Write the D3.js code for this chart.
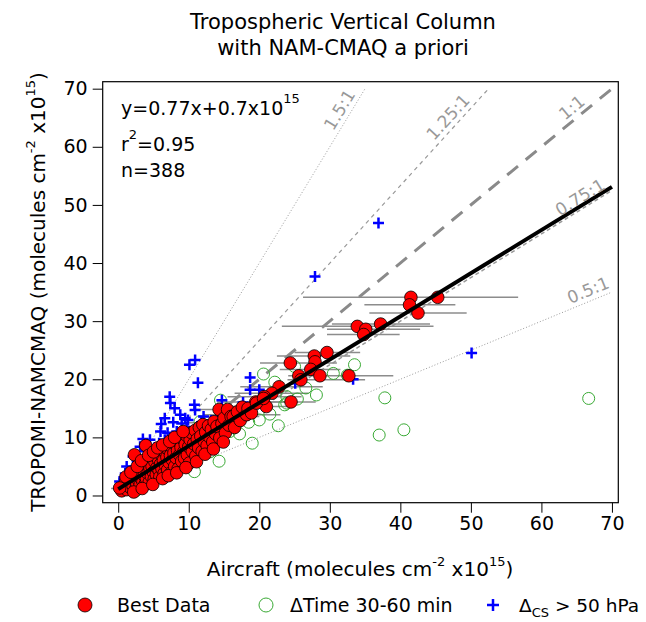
<!DOCTYPE html>
<html><head><meta charset="utf-8">
<script src="https://cdn.jsdelivr.net/npm/d3@7"></script>
<style>
body{margin:0;background:#fff;}
text{font-family:"DejaVu Sans",sans-serif;}
</style></head>
<body><svg id="c" width="646" height="622"></svg>
<script>
// ---------- data ----------
const titleLines = ["Tropospheric Vertical Column", "with NAM-CMAQ a priori"];
const xTicks = [0,10,20,30,40,50,60,70];
const yTicks = [0,10,20,30,40,50,60,70];
const fitSlope = 0.743, fitIntercept = 1.1;
const statsText = ["y=0.77x+0.7x10", "15", "r", "2", "=0.95", "n=388"];
const refSlopes = [2.0, 1.333, 1.0, 0.75, 0.5];
const refLabels = ["1.5:1", "1.25:1", "1:1", "0.75:1", "0.5:1"];
const refLabelAt = [32.7, 47.9, 65.3, 66.3, 67.2];

const bestData = [
[45.3,34.1],[41.5,34.1],[41.3,32.8],[42.5,31.4],[37.2,29.5],[33.9,29.1],[35.1,28.6],[34.8,27.7],
[29.6,24.6],[27.8,24.0],[27.9,23.0],[24.4,22.8],[27.3,21.7],[25.6,20.6],[25.9,19.9],[28.6,20.6],
[32.7,20.6],[22.8,18.7],[21.8,17.6],[20.7,17.0],[19.5,16.1],[21.0,15.3],[24.5,16.1],[18.0,13.9],
[0.3,1.2],[0.5,0.8],[0.8,1.5],[1.0,2.2],[1.2,1.0],[1.4,1.8],[1.5,2.8],[1.7,1.4],[1.9,2.4],[2.0,3.3],
[2.1,1.7],[2.3,2.9],[2.4,4.0],[2.5,1.2],[2.6,2.2],[2.8,3.5],[2.9,2.6],[3.0,4.6],[3.1,1.8],[3.2,3.0],
[3.4,4.1],[3.5,2.4],[3.6,5.2],[3.7,3.4],[3.8,1.9],[3.9,4.4],[4.0,2.9],[4.1,5.5],[4.2,3.8],[4.4,2.3],
[4.5,4.7],[4.6,6.1],[4.7,3.3],[4.8,5.0],[5.0,4.0],[5.1,2.8],[5.2,5.8],[5.3,6.8],[5.4,3.6],[5.5,4.8],
[5.7,6.2],[5.8,4.3],[5.9,3.2],[6.0,5.4],[6.1,7.0],[6.2,4.6],[6.4,6.0],[6.5,3.8],[6.6,7.6],[6.7,5.2],
[6.9,6.6],[7.0,4.4],[7.1,7.9],[7.2,5.7],[7.4,6.9],[7.5,3.9],[7.6,8.4],[7.7,6.1],[7.9,7.3],[8.0,5.0],
[8.1,8.8],[8.2,6.5],[8.4,7.8],[8.5,4.6],[8.6,9.2],[8.7,7.0],[8.9,8.3],[9.0,5.9],[9.1,9.8],[9.3,7.5],
[9.4,6.4],[9.5,8.8],[9.7,10.3],[9.8,7.0],[10.0,8.4],[10.1,5.6],[10.2,9.6],[10.4,10.8],[10.5,7.6],[10.7,8.9],
[10.9,11.2],[11.0,6.8],[11.2,9.7],[11.4,8.2],[11.5,11.7],[11.7,10.2],[11.9,7.6],[12.0,12.2],[12.2,9.3],[12.4,10.9],
[12.6,8.6],[12.8,12.0],[13.0,10.0],[13.2,11.4],[13.4,9.2],[13.6,12.7],[13.8,10.6],[14.0,11.9],[14.3,14.8],[14.4,9.9],
[14.7,12.4],[15.0,13.3],[15.2,10.8],[15.5,14.8],[15.7,12.1],[16.0,13.6],[16.3,13.6],[16.5,11.7],[16.9,14.4],[17.3,12.9],
[17.6,15.2],[18.2,13.9],[18.4,15.0],[18.9,14.2],[19.6,15.9],[20.6,16.7],[3.9,8.6],[2.3,7.0],[0.2,1.3],
[1.1,3.2],[1.8,4.0],[2.7,5.0],[3.3,6.0],[4.3,6.9],[5.0,7.5],[5.6,8.2],[6.3,8.7],[7.3,9.3],[8.0,10.0],
[9.2,11.0],[2.2,0.6],[3.4,1.2],[4.9,1.9],[6.3,2.9],[7.1,3.4],[8.3,3.9],[9.6,4.8],[11.1,5.8],[12.3,7.1],
[13.5,8.0],[14.9,9.2]
];

const timeData = [
[66.7,16.7],[37.0,10.4],[40.5,11.3],[37.8,16.8],[33.5,22.5],[32.5,20.7],[28.1,17.3],[26.6,18.5],
[25.4,16.6],[23.9,17.0],[23.6,15.6],[25.0,22.2],[20.6,20.9],[14.5,16.4],[16.8,12.4],[19.0,9.0],
[14.3,5.9],[10.8,4.1],[22.7,12.0],[23.9,15.9],[11.6,12.7],[15.8,11.0],[18.5,12.6],[21.5,14.0],
[17.2,10.6],[13.0,7.5],[9.0,5.5],[6.5,3.5],[4.0,2.0],[2.5,0.8],[12.2,9.0],[20.0,13.0],[30.5,21.0],[22.2,19.5]
];

const csData = [
[36.9,46.9],[27.9,37.7],[50.1,24.5],[33.3,20.0],[25.1,19.3],[18.7,20.3],[18.7,18.2],[20.0,18.2],[17.7,16.0],
[10.9,23.3],[10.1,22.5],[11.3,19.4],[7.3,17.0],[7.4,15.9],[8.0,15.0],[10.8,15.6],[10.9,14.7],[14.7,16.4],
[6.6,13.3],[6.1,12.3],[8.8,13.9],[9.5,13.3],[9.0,12.4],[9.7,11.8],[12.1,13.6],[14.0,13.3],[3.5,9.7],
[4.5,9.6],[5.8,9.0],[6.6,9.6],[8.3,11.0],[3.1,8.4],[2.1,6.7],[1.2,5.0],[1.0,3.8],[0.2,2.4],[0.5,0.9],
[5.2,8.2],[7.0,10.8],[9.9,13.0],[4.0,7.6],[2.7,5.8],[1.6,4.2],[0.8,2.9],[11.8,12.6],[13.2,12.9],
[6.0,11.0],[7.8,12.6],[15.5,14.2]
];

// error bars: [y, xLow, xHigh]
const errorBars = [
[34.1,26.2,56.7],[32.8,34.9,47.8],[31.4,35.6,49.4],[29.5,30.3,44.2],[29.1,23.2,44.7],[28.6,29.6,42.8],
[27.7,29.6,39.9],[24.6,25.0,34.3],[24.0,22.5,32.9],[22.8,20.1,31.0],[21.7,22.9,31.5],[20.6,24.1,39.0],
[19.9,24.0,35.0],[18.7,17.3,29.0],[17.6,16.5,27.0],[17.0,15.5,26.0],[16.1,14.0,25.5],[15.3,16.0,24.5],
[16.1,20.0,28.0],[13.9,12.0,23.0],[13.6,11.5,20.0],[14.8,11.0,19.5],[12.5,10.0,18.0],[11.5,9.0,16.5],
[10.5,8.0,14.5],[9.0,7.0,13.0],[7.5,5.0,11.0],[6.0,3.0,8.5],[4.0,1.5,6.5],[2.0,-0.5,3.0],[1.2,-1.0,2.0]
];

const legendItems = ["Best Data", "\u0394Time 30-60 min"];

// ---------- layout ----------
const svg = d3.select("#c");
const box = {l:102.7, r:618.3, t:81.7, b:502.7};
const x = d3.scaleLinear().domain([-2.2, 70.9]).range([box.l, box.r]);
const y = d3.scaleLinear().domain([-1.24, 71.2]).range([box.b, box.t]);

// title
svg.selectAll(".title").data(titleLines).enter().append("text")
  .attr("x", 343).attr("y", (d,i)=>29+i*26)
  .attr("text-anchor","middle").attr("font-size",21).text(d=>d);

// clip
svg.append("clipPath").attr("id","clip").append("rect")
  .attr("x",box.l).attr("y",box.t).attr("width",box.r-box.l).attr("height",box.b-box.t);
const plot = svg.append("g").attr("clip-path","url(#clip)");

// reference lines
const refStyle = [
  {dash:"1,2", w:1, c:"#999"},
  {dash:"4,4", w:1.2, c:"#999"},
  {dash:"14,10", w:3, c:"#8a8a8a"},
  {dash:"4,3", w:1.5, c:"#999"},
  {dash:"1,2", w:1, c:"#999"}
];
refSlopes.forEach((s,i)=>{
  const xe = Math.min(70, 70/s);
  plot.append("line")
    .attr("x1",x(0)).attr("y1",y(0)).attr("x2",x(xe)).attr("y2",y(xe*s))
    .attr("stroke",refStyle[i].c).attr("stroke-width",refStyle[i].w)
    .attr("stroke-dasharray",refStyle[i].dash);
});
// ref labels
refSlopes.forEach((s,i)=>{
  const xv = refLabelAt[i];
  const px = x(xv), py = y(xv*s);
  const ang = Math.atan2(y(s*10)-y(0), x(10)-x(0))*180/Math.PI;
  svg.append("text")
    .attr("transform",`translate(${px},${py}) rotate(${ang}) translate(0,-5)`)
    .attr("text-anchor","middle").attr("font-size",17).attr("fill","#999")
    .text(refLabels[i]);
});

// error bars
plot.selectAll(".eb").data(errorBars).enter().append("line")
  .attr("x1",d=>x(d[1])).attr("x2",d=>x(d[2]))
  .attr("y1",d=>y(d[0])).attr("y2",d=>y(d[0]))
  .attr("stroke","#8c8c8c").attr("stroke-width",1.5);

// green circles
plot.selectAll(".tm").data(timeData).enter().append("circle")
  .attr("cx",d=>x(d[0])).attr("cy",d=>y(d[1])).attr("r",6)
  .attr("fill","none").attr("stroke","#3aaa35").attr("stroke-width",1);

// blue plus
const plusPath = "M-5.5,0H5.5M0,-5.5V5.5";
plot.selectAll(".cs").data(csData).enter().append("path")
  .attr("transform",d=>`translate(${x(d[0])},${y(d[1])})`)
  .attr("d",plusPath).attr("stroke","#0000ff").attr("stroke-width",2.5).attr("fill","none");

// red circles
plot.selectAll(".bd").data(bestData).enter().append("circle")
  .attr("cx",d=>x(d[0])).attr("cy",d=>y(d[1])).attr("r",6.3)
  .attr("fill","#ff0000").attr("stroke","#000").attr("stroke-width",0.8);

// fit line
plot.append("line")
  .attr("x1",x(0)).attr("y1",y(fitIntercept))
  .attr("x2",x(70)).attr("y2",y(fitIntercept+70*fitSlope))
  .attr("stroke","#000").attr("stroke-width",4);

// box
svg.append("rect").attr("x",box.l).attr("y",box.t)
  .attr("width",box.r-box.l).attr("height",box.b-box.t)
  .attr("fill","none").attr("stroke","#000").attr("stroke-width",1.2);

// axes
const xAxis = d3.axisBottom(x).tickValues(xTicks).tickSize(10).tickPadding(4).tickSizeOuter(0);
const gx = svg.append("g").attr("transform",`translate(0,${box.b})`).call(xAxis);
gx.select(".domain").remove();
gx.selectAll("text").attr("font-size",19).attr("font-family","DejaVu Sans");
const yAxis = d3.axisLeft(y).tickValues(yTicks).tickSize(10).tickPadding(5).tickSizeOuter(0);
const gy = svg.append("g").attr("transform",`translate(${box.l},0)`).call(yAxis);
gy.select(".domain").remove();
gy.selectAll("text").attr("font-size",19).attr("font-family","DejaVu Sans");

// stats text
const st = svg.append("g").attr("font-size",19);
const t1 = st.append("text").attr("x",121).attr("y",115);
t1.append("tspan").text(statsText[0]);
t1.append("tspan").attr("dy",-12).attr("font-size",13).text(statsText[1]);
const t2 = st.append("text").attr("x",121).attr("y",151);
t2.append("tspan").text(statsText[2]);
t2.append("tspan").attr("dy",-12).attr("font-size",13).text(statsText[3]);
t2.append("tspan").attr("dy",12).text(statsText[4]);
st.append("text").attr("x",121).attr("y",177).text(statsText[5]);

// axis titles
const xl = svg.append("text").attr("x",360).attr("y",576).attr("text-anchor","middle").attr("font-size",20);
xl.append("tspan").text("Aircraft (molecules cm");
xl.append("tspan").attr("dy",-10).attr("font-size",13).text("-2");
xl.append("tspan").attr("dy",10).text(" x10");
xl.append("tspan").attr("dy",-10).attr("font-size",13).text("15");
xl.append("tspan").attr("dy",10).text(")");

const yl = svg.append("text").attr("transform","translate(45,292) rotate(-90)")
  .attr("text-anchor","middle").attr("font-size",20);
yl.append("tspan").text("TROPOMI-NAMCMAQ (molecules cm");
yl.append("tspan").attr("dy",-10).attr("font-size",13).text("-2");
yl.append("tspan").attr("dy",10).text(" x10");
yl.append("tspan").attr("dy",-10).attr("font-size",13).text("15");
yl.append("tspan").attr("dy",10).text(")");

// legend
const ly = 605;
svg.append("circle").attr("cx",85).attr("cy",ly).attr("r",7)
  .attr("fill","#ff0000").attr("stroke","#000").attr("stroke-width",0.8);
svg.append("text").attr("x",117).attr("y",ly+7).attr("font-size",19).text(legendItems[0]);
svg.append("circle").attr("cx",266).attr("cy",ly).attr("r",7)
  .attr("fill","none").attr("stroke","#3aaa35").attr("stroke-width",1);
svg.append("text").attr("x",290).attr("y",ly+7).attr("font-size",19).text(legendItems[1]);
svg.append("path").attr("transform",`translate(493,${ly})`).attr("d","M-6,0H6M0,-6V6")
  .attr("stroke","#0000ff").attr("stroke-width",2.5);
const lt = svg.append("text").attr("x",519).attr("y",ly+7).attr("font-size",18.5);
lt.append("tspan").text("\u0394");
lt.append("tspan").attr("dy",5).attr("font-size",13).text("CS");
lt.append("tspan").attr("dy",-5).text(" > 50 hPa");
</script></body></html>
